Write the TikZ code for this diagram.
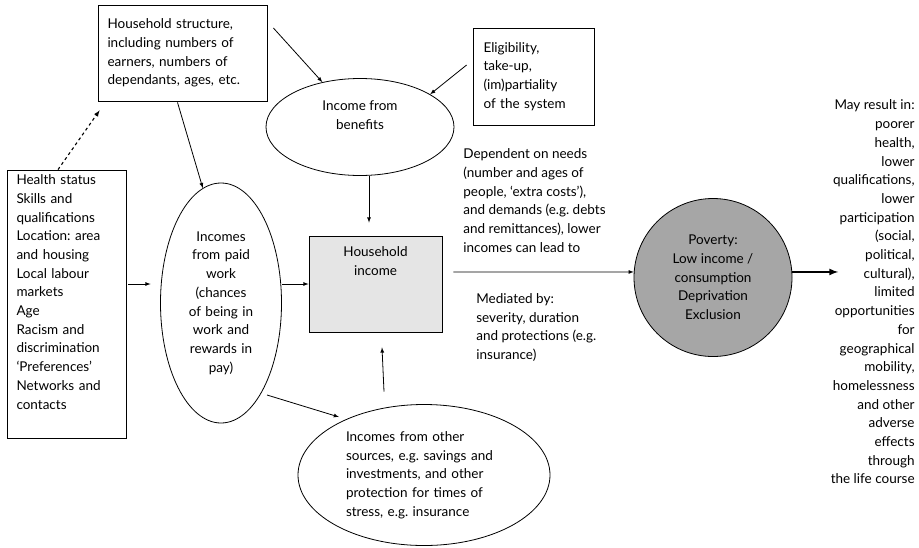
\documentclass[tikz,border=0pt]{standalone}
\usepackage{fontspec}
\setmainfont{Lato}
\usetikzlibrary{shapes}
\frenchspacing

\begin{document}
\begin{tikzpicture}[x=1pt,y=-1pt,line width=0.8pt,
  every node/.style={font=\fontsize{13.5}{18.7}\selectfont},
  box/.style={draw,rectangle,inner sep=0pt,align=left},
  oval/.style={draw,ellipse,inner sep=0pt,align=center},
  arr/.style={-latex}]
\useasboundingbox (0,0) rectangle (919,547);

\node[box,minimum width=169,minimum height=96,text width=150] (hstruct) at (182.5,53) {Household structure,\\including numbers of\\earners, numbers of\\dependants, ages, etc.};
\node[box,minimum width=121,minimum height=97,text width=100] (elig) at (533.5,76.5) {Eligibility,\\take-up,\\(im)partiality\\of the system};
\node[oval,minimum width=188,minimum height=97] (benefit) at (360,127) {Income from\\benefits\\\strut};
\node[box,minimum width=119,minimum height=268,text width=100] (health) at (66.5,304) {Health status\\Skills and\\qualifications\\Location: area\\and housing\\Local labour\\markets\\Age\\Racism and\\discrimination\\`Preferences'\\Networks and\\contacts\\\strut};
\node[oval,minimum width=121,minimum height=240,text width=80] (paid) at (221,303) {Incomes\\from paid\\work\\(chances\\of being in\\work and\\rewards in\\pay)};
\node[box,align=center,fill=black!10,minimum width=133,minimum height=96] (hhinc) at (375.5,284) {Household\\income\\[27pt]\mbox{}};
\node[draw,ellipse,inner sep=0pt,align=left,text width=156,minimum width=252,minimum height=141] (other) at (424,475) {Incomes from other\\sources, e.g. savings and\\investments, and other\\protection for times of\\stress, e.g. insurance};
\node[draw,circle,fill=black!35,minimum size=158,inner sep=0pt,align=center] (pov) at (713,277.5) {Poverty:\\Low income /\\consumption\\Deprivation\\Exclusion};

% text beside the main line
\node[anchor=west,inner sep=0pt,align=left] (needs) at (463,200.5) {Dependent on needs\\(number and ages of\\people, `extra costs'),\\and demands (e.g. debts\\and remittances), lower\\incomes can lead to};
\node[anchor=west,inner sep=0pt,align=left] (medi) at (476,327.5) {Mediated by:\\severity, duration\\and protections (e.g.\\insurance)};
\node[anchor=east,inner sep=0pt,align=right] (result) at (915,292) {May result in:\\poorer\\health,\\lower\\qualifications,\\lower\\participation\\(social,\\political,\\cultural),\\limited\\opportunities\\for\\geographical\\mobility,\\homelessness\\and other\\adverse\\effects\\through\\the life course};

\draw[arr] ([shift={(6,-25)}]hstruct.east) -- (benefit.130);
\draw[arr] ([shift={(-6,-11.5)}]elig.west) -- (benefit.25);
\draw[arr] ([shift={(-5,1)}]hstruct.south) -- (paid.99);
\draw[arr,dashed,line width=1.1pt] ([shift={(-8.5,0)}]health.north) -- ([shift={(2,9)}]hstruct.south west);
\draw[arr] ([shift={(2,0)}]health.east |- hhinc.west) -- ([shift={(-9.5,0)}]paid.west |- hhinc.west);
\draw[arr] (paid.east |- hhinc.west) -- (hhinc.west);
\draw[arr] ([shift={(9,0)}]benefit.south) -- ([shift={(-6.5,-13)}]hhinc.north);
\draw[arr] ([shift={(-40,-12.5)}]other.north) -- ([shift={(6.5,15)}]hhinc.south);
\draw[arr] ([shift={(46,92)}]paid.center) -- ([shift={(-85,-58)}]other.center);
\draw[arr] ([shift={(11,-12)}]hhinc.east) -- (pov.176);
\draw[arr,line width=2pt] (pov.4) -- ++(46,0);
\end{tikzpicture}
\end{document}
